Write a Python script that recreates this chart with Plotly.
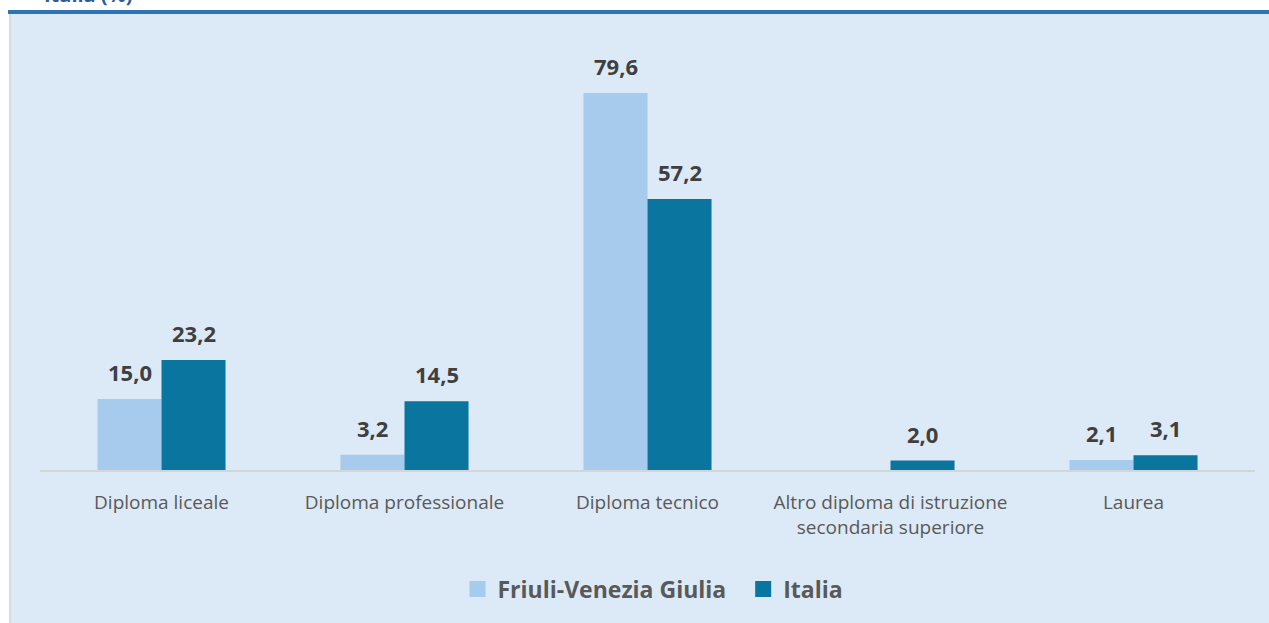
import plotly.graph_objects as go

categories = ["Diploma liceale", "Diploma professionale", "Diploma tecnico",
              "Altro diploma di istruzione<br>secondaria superiore", "Laurea"]
fvg_values = [15.0, 3.2, 79.6, None, 2.1]
italia_values = [23.2, 14.5, 57.2, 2.0, 3.1]
series_names = ["Friuli-Venezia Giulia", "Italia"]
series_colors = ["#A7CBEC", "#0A759F"]

W, H = 1269, 623
ML, MR, MT, MB = 40, 14, 30, 153
PW, PH = W - ML - MR, H - MT - MB

def px_x(p):
    return (p - ML) / PW

def px_y(p):
    return 1 - (p - MT) / PH

fig = go.Figure()
for name, vals, col in zip(series_names, [fvg_values, italia_values], series_colors):
    fig.add_trace(go.Bar(x=categories, y=vals, name=name, marker_color=col,
                         marker_line_width=0, hoverinfo="skip", showlegend=False))
for i, (name, col) in enumerate(zip(series_names, series_colors)):
    label = name + ("\u00a0\u00a0" if i == 0 else "")
    fig.add_trace(go.Scatter(x=[None], y=[None], mode="markers", name=label,
                             marker=dict(symbol="square", size=17, color=col, line_width=0)))

annotations = []
for vals, shift in [(fvg_values, -32), (italia_values, 32)]:
    for c, v in zip(categories, vals):
        if v is None:
            continue
        annotations.append(dict(x=c, y=v, xref="x", yref="y", text=f"{v:.1f}".replace(".", ","),
                                showarrow=False, xshift=shift, yshift=27, yanchor="middle",
                                font=dict(family="Open Sans", size=22, color="#3F3F3F", weight="bold")))

annotations.append(dict(x=px_x(42), y=px_y(10), xref="paper", yref="paper", text="<b>Italia (%)</b>",
                        showarrow=False, xanchor="left", yanchor="bottom",
                        font=dict(family="Open Sans", size=20, color="#2B5C9E")))

shapes = [
    dict(type="rect", xref="paper", yref="paper", x0=px_x(0), x1=px_x(W), y0=px_y(0), y1=px_y(10),
         fillcolor="white", line_width=0, layer="below"),
    dict(type="rect", xref="paper", yref="paper", x0=px_x(0), x1=px_x(9), y0=px_y(0), y1=px_y(H),
         fillcolor="white", line_width=0, layer="below"),
    dict(type="rect", xref="paper", yref="paper", x0=px_x(9), x1=px_x(11), y0=px_y(14), y1=px_y(H),
         fillcolor="#D6DCE2", line_width=0, layer="below"),
    dict(type="rect", xref="paper", yref="paper", x0=px_x(8), x1=px_x(W), y0=px_y(10), y1=px_y(14),
         fillcolor="#2E74B5", line_width=0, layer="below"),
]

fig.update_layout(
    width=W, height=H,
    margin=dict(l=ML, r=MR, t=MT, b=MB),
    paper_bgcolor="#DCE9F6", plot_bgcolor="#DCE9F6",
    barmode="group", bargap=0.473, bargroupgap=0,
    separators=",.",
    font=dict(family="Open Sans", color="#595959"),
    xaxis=dict(showgrid=False, showline=True, linecolor="#D3D6D9", linewidth=2,
               ticks="", tickfont=dict(size=19, color="#595959"), ticklabelstandoff=14,
               fixedrange=True),
    yaxis=dict(range=[0, PH / 4.736], visible=False, showgrid=False, zeroline=False),
    legend=dict(orientation="h", x=px_x(653), xanchor="center", y=px_y(589), yanchor="middle",
                font=dict(size=23, color="#595959", weight="bold"),
                traceorder="normal", itemwidth=30),
    annotations=annotations,
    shapes=shapes,
    showlegend=True,
)

fig.write_html("out.html", config={"displayModeBar": False},
               post_script="document.body.style.margin='0';document.body.style.overflow='hidden';")
